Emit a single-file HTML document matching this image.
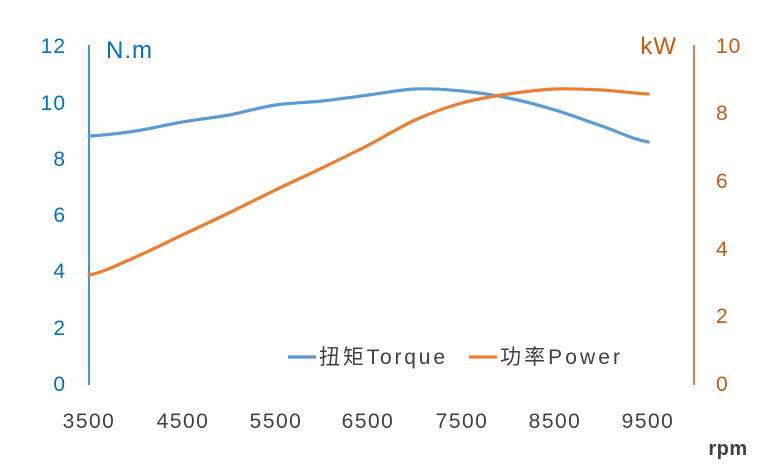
<!DOCTYPE html>
<html><head><meta charset="utf-8"><style>
html,body{margin:0;padding:0;background:#fff;}
svg{display:block;font-family:"Liberation Sans","Noto Sans CJK SC",sans-serif;}
</style></head><body>
<svg width="760" height="464" viewBox="0 0 760 464" xmlns="http://www.w3.org/2000/svg">
<rect width="760" height="464" fill="#fff"/>
<line x1="89" y1="45" x2="89" y2="385" stroke="#0070C0" stroke-width="1.5"/>
<line x1="694" y1="45" x2="694" y2="385" stroke="#C55A11" stroke-width="1.5"/>
<g fill="#0070C0" font-size="21" text-anchor="end" letter-spacing="1">
<text x="66" y="391">0</text><text x="66" y="335">2</text><text x="66" y="278">4</text>
<text x="66" y="222">6</text><text x="66" y="166">8</text><text x="66" y="110">10</text>
<text x="66" y="53">12</text>
<text x="106" y="58" text-anchor="start" font-size="24">N.m</text>
</g>
<g fill="#C55A11" font-size="21" text-anchor="start" letter-spacing="1">
<text x="716" y="391">0</text><text x="716" y="323">2</text><text x="716" y="256">4</text>
<text x="716" y="188">6</text><text x="716" y="120">8</text><text x="716" y="53">10</text>
<text x="677" y="54" text-anchor="end" font-size="24">kW</text>
</g>
<g fill="#404040" font-size="21" text-anchor="middle" letter-spacing="1.5">
<text x="89" y="428">3500</text><text x="183" y="428">4500</text><text x="276" y="428">5500</text>
<text x="368" y="428">6500</text><text x="462" y="428">7500</text><text x="555" y="428">8500</text>
<text x="648" y="428">9500</text>
<text x="728" y="455" font-size="20" font-weight="bold" letter-spacing="0.5">rpm</text>
</g>
<path d="M89,136 C104.5,135.2 120.1,133.3 135.6,131 C151.1,128.7 166.7,124.7 182.2,122 C197.7,119.3 213.3,117.8 228.8,115 C244.3,112.2 259.9,107.3 275.4,105 C290.9,102.7 306.5,102.7 322,101 C337.5,99.3 353.1,97 368.6,95 C384.1,93 399.7,89.7 415.2,89 C430.7,88.3 446.3,89.5 461.8,91 C477.3,92.5 492.9,94.8 508.4,98 C523.9,101.2 539.5,105.3 555,110 C570.5,114.7 586.1,120.7 601.6,126 C617.1,131.3 632.7,139.3 648.2,142" fill="none" stroke="#5B9BD5" stroke-width="3.2" stroke-linecap="round"/>
<path d="M89,275 C104.5,272 120.1,263.7 135.6,257 C151.1,250.3 166.7,242.3 182.2,235 C197.7,227.7 213.3,220.5 228.8,213 C244.3,205.5 259.9,197.5 275.4,190 C290.9,182.5 306.5,175.5 322,168 C337.5,160.5 353.1,153 368.6,145 C384.1,137 399.7,127 415.2,120 C430.7,113 446.3,107.3 461.8,103 C477.3,98.7 492.9,96.3 508.4,94 C523.9,91.7 539.5,89.7 555,89 C570.5,88.3 586.1,89.2 601.6,90 C617.1,90.8 632.7,93.3 648.2,94" fill="none" stroke="#ED7D31" stroke-width="3.2" stroke-linecap="round"/>
<line x1="288" y1="357" x2="316" y2="357" stroke="#5B9BD5" stroke-width="3.2"/>
<text x="319" y="364" font-size="21" fill="#404040" textLength="126" lengthAdjust="spacing">扭矩Torque</text>
<line x1="469" y1="357" x2="497" y2="357" stroke="#ED7D31" stroke-width="3.2"/>
<text x="500" y="364" font-size="21" fill="#404040" textLength="120" lengthAdjust="spacing">功率Power</text>
</svg>
</body></html>
